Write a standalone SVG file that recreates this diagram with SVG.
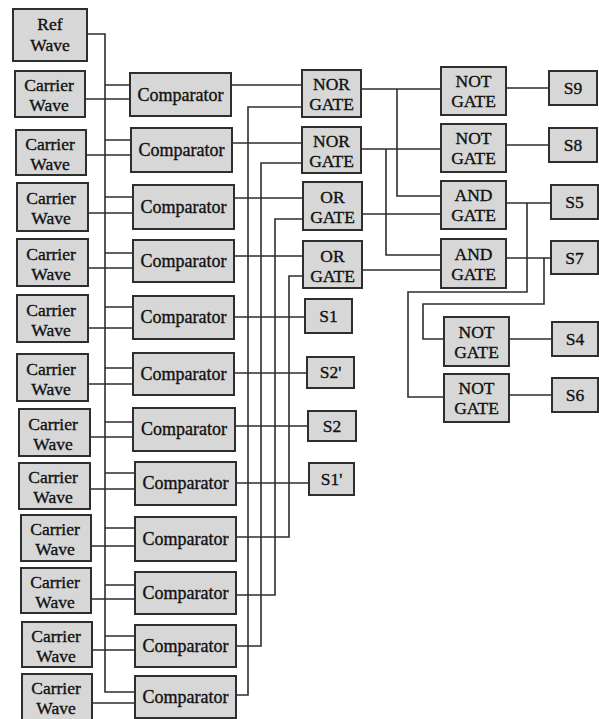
<svg xmlns="http://www.w3.org/2000/svg" width="599" height="719" viewBox="0 0 599 719">
<style>
.b{fill:#d7d7d7;stroke:#2e2e2e;stroke-width:2}
text{font-family:'Liberation Serif','Times New Roman',Times,'DejaVu Serif',serif;font-size:17.5px;fill:#111;stroke:#111;stroke-width:0.35;text-anchor:middle}
.c{font-size:18px}
.w{fill:none;stroke:#2e2e2e;stroke-width:1.6}
</style>
<rect width="599" height="719" fill="#fff"/>
<g id="connectors" class="w">
<path d="M87,34 H105 V692 H135"/>
<path d="M105,85 H130 M105,140 H131 M105,197 H133 M105,253 H133 M105,307 H133 M105,368 H133 M105,422 H133 M105,473 H135 M105,528 H135 M105,585 H135 M105,636 H135"/>
<path d="M85,99 H130 M86,155 H131 M88,213 H133 M88,268 H133 M88,328 H133 M88,384 H133 M90,437 H133 M90,489 H135 M91,546 H135 M91,599 H135 M92,650 H135 M92,703 H135"/>
<path d="M231,85 H302 M232,143 H302 M234,198 H303 M234,256 H303 M234,317 H305 M234,373 H307 M235,426 H308 M236,483 H309"/>
<path d="M236,537 H289 V276 H303 M236,595 H275 V219 H303 M236,646 H261 V163 H302 M236,695 H248 V107 H302"/>
<path d="M361,89 H441 M397,89 V196 H441 M361,149 H441 M386,149 V255 H441 M362,214 H441 M362,270 H441"/>
<path d="M506,88 H549 M506,145 H549 M506,203 H551 M506,258 H551"/>
<path d="M527,203 V292 H408 V397 H444 M544,258 V304 H423 V339 H444"/>
<path d="M509,339 H552 M509,395 H552"/>
</g>
<g id="ref"><rect class="b" x="13" y="9" width="74" height="52"/><text x="50" y="30">Ref</text><text x="50" y="51">Wave</text></g>
<g id="carrier1"><rect class="b" x="15" y="71" width="70" height="46"/><text x="49" y="91">Carrier</text><text x="49" y="111">Wave</text></g>
<g id="carrier2"><rect class="b" x="16" y="130" width="70" height="45"/><text x="50" y="150">Carrier</text><text x="50" y="170">Wave</text></g>
<g id="carrier3"><rect class="b" x="17" y="183" width="71" height="48"/><text x="51" y="204">Carrier</text><text x="51" y="224">Wave</text></g>
<g id="carrier4"><rect class="b" x="17" y="239" width="71" height="47"/><text x="51" y="260">Carrier</text><text x="51" y="280">Wave</text></g>
<g id="carrier5"><rect class="b" x="17" y="295" width="71" height="47"/><text x="51" y="316">Carrier</text><text x="51" y="336">Wave</text></g>
<g id="carrier6"><rect class="b" x="17" y="354" width="71" height="47"/><text x="51" y="375">Carrier</text><text x="51" y="395">Wave</text></g>
<g id="carrier7"><rect class="b" x="19" y="409" width="71" height="47"/><text x="53" y="430">Carrier</text><text x="53" y="450">Wave</text></g>
<g id="carrier8"><rect class="b" x="19" y="463" width="71" height="46"/><text x="53" y="483">Carrier</text><text x="53" y="503">Wave</text></g>
<g id="carrier9"><rect class="b" x="21" y="515" width="70" height="46"/><text x="55" y="535">Carrier</text><text x="55" y="555">Wave</text></g>
<g id="carrier10"><rect class="b" x="21" y="568" width="70" height="45"/><text x="55" y="588">Carrier</text><text x="55" y="608">Wave</text></g>
<g id="carrier11"><rect class="b" x="22" y="622" width="70" height="45"/><text x="56" y="642">Carrier</text><text x="56" y="662">Wave</text></g>
<g id="carrier12"><rect class="b" x="22" y="674" width="70" height="46"/><text x="56" y="694">Carrier</text><text x="56" y="714">Wave</text></g>
<g id="comp1"><rect class="b" x="130" y="73" width="101" height="43"/><text class="c" x="180.5" y="101">Comparator</text></g>
<g id="comp2"><rect class="b" x="131" y="128" width="101" height="44"/><text class="c" x="181.5" y="156">Comparator</text></g>
<g id="comp3"><rect class="b" x="133" y="185" width="101" height="44"/><text class="c" x="183.5" y="213">Comparator</text></g>
<g id="comp4"><rect class="b" x="133" y="240" width="101" height="42"/><text class="c" x="183.5" y="267">Comparator</text></g>
<g id="comp5"><rect class="b" x="133" y="296" width="101" height="43"/><text class="c" x="183.5" y="323">Comparator</text></g>
<g id="comp6"><rect class="b" x="133" y="353" width="101" height="42"/><text class="c" x="183.5" y="380">Comparator</text></g>
<g id="comp7"><rect class="b" x="133" y="408" width="102" height="43"/><text class="c" x="184" y="435">Comparator</text></g>
<g id="comp8"><rect class="b" x="135" y="462" width="101" height="43"/><text class="c" x="185.5" y="489">Comparator</text></g>
<g id="comp9"><rect class="b" x="135" y="517" width="101" height="44"/><text class="c" x="185.5" y="545">Comparator</text></g>
<g id="comp10"><rect class="b" x="135" y="572" width="101" height="42"/><text class="c" x="185.5" y="599">Comparator</text></g>
<g id="comp11"><rect class="b" x="135" y="625" width="101" height="42"/><text class="c" x="185.5" y="652">Comparator</text></g>
<g id="comp12"><rect class="b" x="135" y="676" width="101" height="42"/><text class="c" x="185.5" y="703">Comparator</text></g>
<g id="nor1"><rect class="b" x="302" y="70" width="59" height="47"/><text x="331.5" y="90">NOR</text><text x="331.5" y="110">GATE</text></g>
<g id="nor2"><rect class="b" x="302" y="127" width="59" height="46"/><text x="331.5" y="147">NOR</text><text x="331.5" y="167">GATE</text></g>
<g id="or1"><rect class="b" x="303" y="182" width="59" height="48"/><text x="332.5" y="203">OR</text><text x="332.5" y="223">GATE</text></g>
<g id="or2"><rect class="b" x="303" y="241" width="59" height="47"/><text x="332.5" y="262">OR</text><text x="332.5" y="282">GATE</text></g>
<g id="s1"><rect class="b" x="305" y="299" width="47" height="34"/><text x="328.5" y="322">S1</text></g>
<g id="s2p"><rect class="b" x="307" y="357" width="47" height="31"/><text x="330.5" y="378">S2'</text></g>
<g id="s2"><rect class="b" x="308" y="411" width="48" height="30"/><text x="332" y="432">S2</text></g>
<g id="s1p"><rect class="b" x="309" y="463" width="45" height="32"/><text x="331.5" y="485">S1'</text></g>
<g id="not1"><rect class="b" x="441" y="67" width="65" height="48"/><text x="473.5" y="87">NOT</text><text x="473.5" y="107">GATE</text></g>
<g id="not2"><rect class="b" x="441" y="124" width="65" height="48"/><text x="473.5" y="144">NOT</text><text x="473.5" y="164">GATE</text></g>
<g id="and1"><rect class="b" x="441" y="181" width="65" height="48"/><text x="473.5" y="201">AND</text><text x="473.5" y="221">GATE</text></g>
<g id="and2"><rect class="b" x="441" y="239" width="65" height="49"/><text x="473.5" y="260">AND</text><text x="473.5" y="280">GATE</text></g>
<g id="not3"><rect class="b" x="444" y="317" width="65" height="49"/><text x="476.5" y="338">NOT</text><text x="476.5" y="358">GATE</text></g>
<g id="not4"><rect class="b" x="444" y="374" width="65" height="48"/><text x="476.5" y="394">NOT</text><text x="476.5" y="414">GATE</text></g>
<g id="s9"><rect class="b" x="549" y="71" width="48" height="34"/><text x="573" y="94">S9</text></g>
<g id="s8"><rect class="b" x="549" y="128" width="48" height="34"/><text x="573" y="151">S8</text></g>
<g id="s5"><rect class="b" x="551" y="185" width="47" height="34"/><text x="574.5" y="208">S5</text></g>
<g id="s7"><rect class="b" x="551" y="241" width="47" height="33"/><text x="574.5" y="264">S7</text></g>
<g id="s4"><rect class="b" x="552" y="322" width="46" height="34"/><text x="575" y="345">S4</text></g>
<g id="s6"><rect class="b" x="552" y="378" width="46" height="34"/><text x="575" y="401">S6</text></g>
</svg>
